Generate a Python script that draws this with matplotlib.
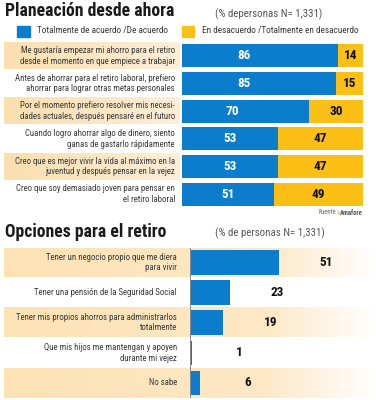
import numpy as np
import matplotlib.pyplot as plt
from matplotlib.patches import Rectangle
from matplotlib.colors import LinearSegmentedColormap

# --- data ---
top_labels = [
    "Me gustaría empezar mi ahorro para el retiro\ndesde el momento en que empiece a trabajar",
    "Antes de ahorrar para el retiro laboral, prefiero\nahorrar para lograr otras metas personales",
    "Por el momento prefiero resolver mis necesi-\ndades actuales, después pensaré en el futuro",
    "Cuando logro ahorrar algo de dinero, siento\nganas de gastarlo rápidamente",
    "Creo que es mejor vivir la vida al máximo en la\njuventud y después pensar en la vejez",
    "Creo que soy demasiado joven para pensar en\nel retiro laboral",
]
acuerdo = [86, 85, 70, 53, 53, 51]
desacuerdo = [14, 15, 30, 47, 47, 49]
legend_labels = ["Totalmente de acuerdo /De acuerdo",
                 "En desacuerdo /Totalmente en desacuerdo"]

bottom_labels = [
    "Tener un negocio propio que me diera\npara vivir",
    "Tener una pensión de la Seguridad Social",
    "Tener mis propios ahorros para administrarlos\ntotalmente",
    "Que mis hijos me mantengan y apoyen\ndurante mi vejez",
    "No sabe",
]
opciones = [51, 23, 19, 1, 6]

title_top = "Planeación desde ahora"
sub_top = "(% depersonas N= 1,331)"
title_bottom = "Opciones para el retiro"
sub_bottom = "(% de personas N= 1,331)"

BLUE = "#0b7dcc"
YELLOW = "#fbbf16"
TXT = "#383838"
COND = ["Roboto Condensed", "Roboto"]

W, H = 376, 400
fig = plt.figure(figsize=(W / 100, H / 100), dpi=100)


def box(x0, y0, x1, y1):
    # pixel box (top-left origin) -> figure fraction rect
    return [x0 / W, 1 - y1 / H, (x1 - x0) / W, (y1 - y0) / H]


def fx(x):
    return x / W


def fy(y):
    return 1 - y / H


beige = LinearSegmentedColormap.from_list("b", ["#fbdfae", "#fce6c3", "#fdefd8"])
beige_fade = LinearSegmentedColormap.from_list(
    "bf", [(0, "#fde2b4"), (0.7, "#fde8c6"), (1.0, "#ffffff")])
grad = np.linspace(0, 1, 256).reshape(1, -1)

# --- titles ---
fig.text(fx(5), fy(11), title_top, family=COND, weight="bold", fontsize=12.7,
         color="#1a1a1a", va="center", ha="left")
fig.text(fx(215), fy(14), sub_top, family=COND, fontsize=7.8, color="#555555",
         va="center", ha="left")
fig.text(fx(5), fy(232), title_bottom, family=COND, weight="bold", fontsize=12.7,
         color="#1a1a1a", va="center", ha="left")
fig.text(fx(215), fy(233), sub_bottom, family=COND, fontsize=7.8, color="#555555",
         va="center", ha="left")

# legend
fig.patches.append(Rectangle((fx(17), fy(37)), 13 / W, 11 / H, color=BLUE,
                             transform=fig.transFigure))
fig.patches.append(Rectangle((fx(182), fy(37)), 12 / W, 11 / H, color=YELLOW,
                             transform=fig.transFigure))
fig.text(fx(37), fy(30.5), legend_labels[0], family=COND, fontsize=6.7,
         color=TXT, va="center")
fig.text(fx(202), fy(30.5), legend_labels[1], family=COND, fontsize=6.7,
         color=TXT, va="center")

# --- top panel: stacked bars ---
ax1 = fig.add_axes(box(4, 42, 363, 208))
left1 = -(182 - 4) / 1.81
ax1.set_xlim(left1, 100)
ax1.set_ylim(len(acuerdo) - 0.5, -0.5)
ax1.axis("off")

y = np.arange(len(acuerdo))
for i in y:
    if i % 2 == 0:
        ax1.imshow(grad, cmap=beige, extent=(left1, -1.2, i + 0.48, i - 0.48),
                   aspect="auto", zorder=0)
ax1.barh(y, acuerdo, height=0.82, color=BLUE, zorder=2)
ax1.barh(y, desacuerdo, left=acuerdo, height=0.82, color=YELLOW, zorder=2)
for i, (a, d, lab) in enumerate(zip(acuerdo, desacuerdo, top_labels)):
    xa = a * 0.4 if a > 60 else a / 2
    ax1.text(xa, i, str(a), family=COND, color="white", weight="bold", fontsize=9.5,
             ha="center", va="center", zorder=3)
    ax1.text(a + d / 2, i, str(d), family=COND, color="#111111", weight="bold",
             fontsize=9.5, ha="center", va="center", zorder=3)
    ax1.text(-(182 - 175) / 1.81, i, lab, family=COND, fontsize=6.3,
             color=TXT, ha="right", va="center", linespacing=1.2, zorder=3)
ax1.set_xlim(left1, 100)

# source line, pieces placed right to left
src = fig.text(fx(363), fy(213), "Amafore", family=COND, fontsize=4.8,
               weight="bold", color="#555555", ha="right", va="center")
fig.canvas.draw()
x_src = src.get_window_extent().x0
arrow = fig.text((x_src - 0.5) / W, fy(213), "»", family=COND, fontsize=4.8,
                 color="#f08a00", ha="right", va="center")
fig.canvas.draw()
x_arr = arrow.get_window_extent().x0
fig.text((x_arr - 0.5) / W, fy(213), "Fuente", family=COND, fontsize=4.8,
         color="#666666", ha="right", va="center")

# --- bottom panel ---
ax2 = fig.add_axes(box(4, 247.5, 376, 398))
scale = 1.745
left2 = -(190 - 4) / scale
right2 = (376 - 190) / scale
ax2.set_xlim(left2, right2)
ax2.set_ylim(len(opciones) - 0.5, -0.5)
ax2.axis("off")

y2 = np.arange(len(opciones))
for i in y2:
    if i % 2 == 0:
        ax2.imshow(grad, cmap=beige_fade, extent=(left2, right2, i + 0.49, i - 0.49),
                   aspect="auto", zorder=0)
ax2.barh(y2, opciones, height=0.82, color=BLUE, zorder=2)
ax2.plot([0, 0], [-0.5, len(opciones) - 0.5], color="#888888", lw=0.7, zorder=3)
for i, (v, lab) in enumerate(zip(opciones, bottom_labels)):
    ax2.text(v + 27, i, str(v), family=COND, color="#111111", weight="bold",
             fontsize=9.5, ha="center", va="center", zorder=3)
    ax2.text(-(190 - 177) / scale, i, lab, family=COND, fontsize=6.3,
             color=TXT, ha="right", va="center", linespacing=1.2, zorder=3)
ax2.set_xlim(left2, right2)
ax2.set_ylim(len(opciones) - 0.5, -0.5)

fig.savefig("out.png", dpi=100, facecolor="white")
